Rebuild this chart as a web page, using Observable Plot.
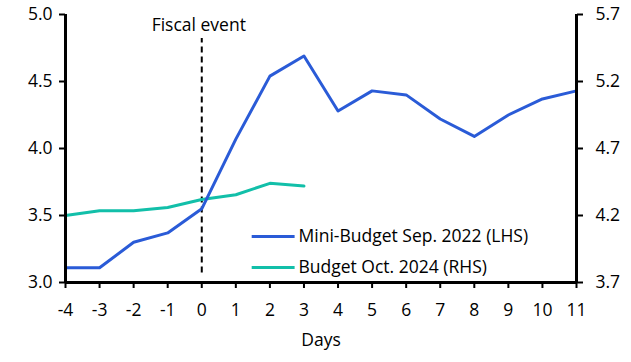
<!DOCTYPE html>
<html>
<head>
<meta charset="utf-8">
<script src="https://cdn.jsdelivr.net/npm/d3@7"></script>
<script src="https://cdn.jsdelivr.net/npm/@observablehq/plot@0.6"></script>
<style>
  html, body { margin: 0; padding: 0; background: #fff; }
  svg { display: block; }
</style>
</head>
<body>
<div id="chart"></div>
<script>
const days = [-4, -3, -2, -1, 0, 1, 2, 3, 4, 5, 6, 7, 8, 9, 10, 11];
const miniBudget2022 = [3.11, 3.11, 3.30, 3.37, 3.55, 4.07, 4.54, 4.69, 4.28, 4.43, 4.40, 4.22, 4.09, 4.25, 4.37, 4.43];
const budgetDays = [-4, -3, -2, -1, 0, 1, 2, 3];
const budget2024 = [4.20, 4.235, 4.235, 4.26, 4.32, 4.355, 4.44, 4.42];
const leftTicks = [3.0, 3.5, 4.0, 4.5, 5.0];
const rightTicks = [3.7, 4.2, 4.7, 5.2, 5.7];
const seriesNames = ["Mini-Budget Sep. 2022 (LHS)", "Budget Oct. 2024 (RHS)"];
const colors = ["#2a5bd7", "#12bfa9"];
const eventLabel = "Fiscal event";
const xLabel = "Days";

const offset = 0.7; // RHS - LHS
const lhs = days.map((d, i) => ({x: d, y: miniBudget2022[i]}));
const rhs = budgetDays.map((d, i) => ({x: d, y: budget2024[i] - offset}));

const font = "'Open Sans', sans-serif";
const fs = 17.5;
const chart = Plot.plot({
  width: 631,
  height: 362,
  marginLeft: 65,
  marginRight: 55,
  marginTop: 14,
  marginBottom: 80,
  style: {fontFamily: font, fontSize: fs + "px", color: "#000", background: "#fff"},
  x: {domain: [-4, 11]},
  y: {domain: [3, 5]},
  marks: [
    Plot.ruleX([0], {y1: 3.07, y2: 4.82, stroke: "#000", strokeWidth: 2, strokeDasharray: "6,4"}),
    Plot.text([eventLabel], {x: 0, y: 4.875, dx: -3, textAnchor: "middle", lineAnchor: "bottom", fontSize: fs, fill: "#000"}),
    Plot.line(rhs, {x: "x", y: "y", stroke: colors[1], strokeWidth: 3}),
    Plot.line(lhs, {x: "x", y: "y", stroke: colors[0], strokeWidth: 3}),
    // legend
    Plot.ruleY([3.343], {x1: 1.48, x2: 2.74, stroke: colors[0], strokeWidth: 3}),
    Plot.ruleY([3.112], {x1: 1.48, x2: 2.74, stroke: colors[1], strokeWidth: 3}),
    Plot.text([seriesNames[0]], {x: 2.84, y: 3.343, textAnchor: "start", fontSize: fs, fill: "#000"}),
    Plot.text([seriesNames[1]], {x: 2.84, y: 3.112, textAnchor: "start", fontSize: fs, fill: "#000"}),
    // axes
    Plot.axisY(leftTicks, {anchor: "left", tickSize: 6, tickPadding: 7, strokeWidth: 2, tickFormat: d => d.toFixed(1), fontSize: fs, label: null}),
    Plot.axisY(rightTicks.map(v => v - offset), {anchor: "right", tickSize: 6, tickPadding: 13, strokeWidth: 2, tickFormat: d => (d + offset).toFixed(1), fontSize: fs, label: null}),
    Plot.axisX(days, {anchor: "bottom", tickSize: 6, tickPadding: 15, strokeWidth: 2, tickFormat: d => String(d), fontSize: fs, label: null}),
    Plot.ruleX([-4, 11], {stroke: "#000", strokeWidth: 3}),
    Plot.ruleY([3], {stroke: "#000", strokeWidth: 3}),
    Plot.text([xLabel], {frameAnchor: "bottom", dy: 63, fontSize: fs, fill: "#000"})
  ]
});
document.getElementById("chart").appendChild(chart);
</script>
</body>
</html>
